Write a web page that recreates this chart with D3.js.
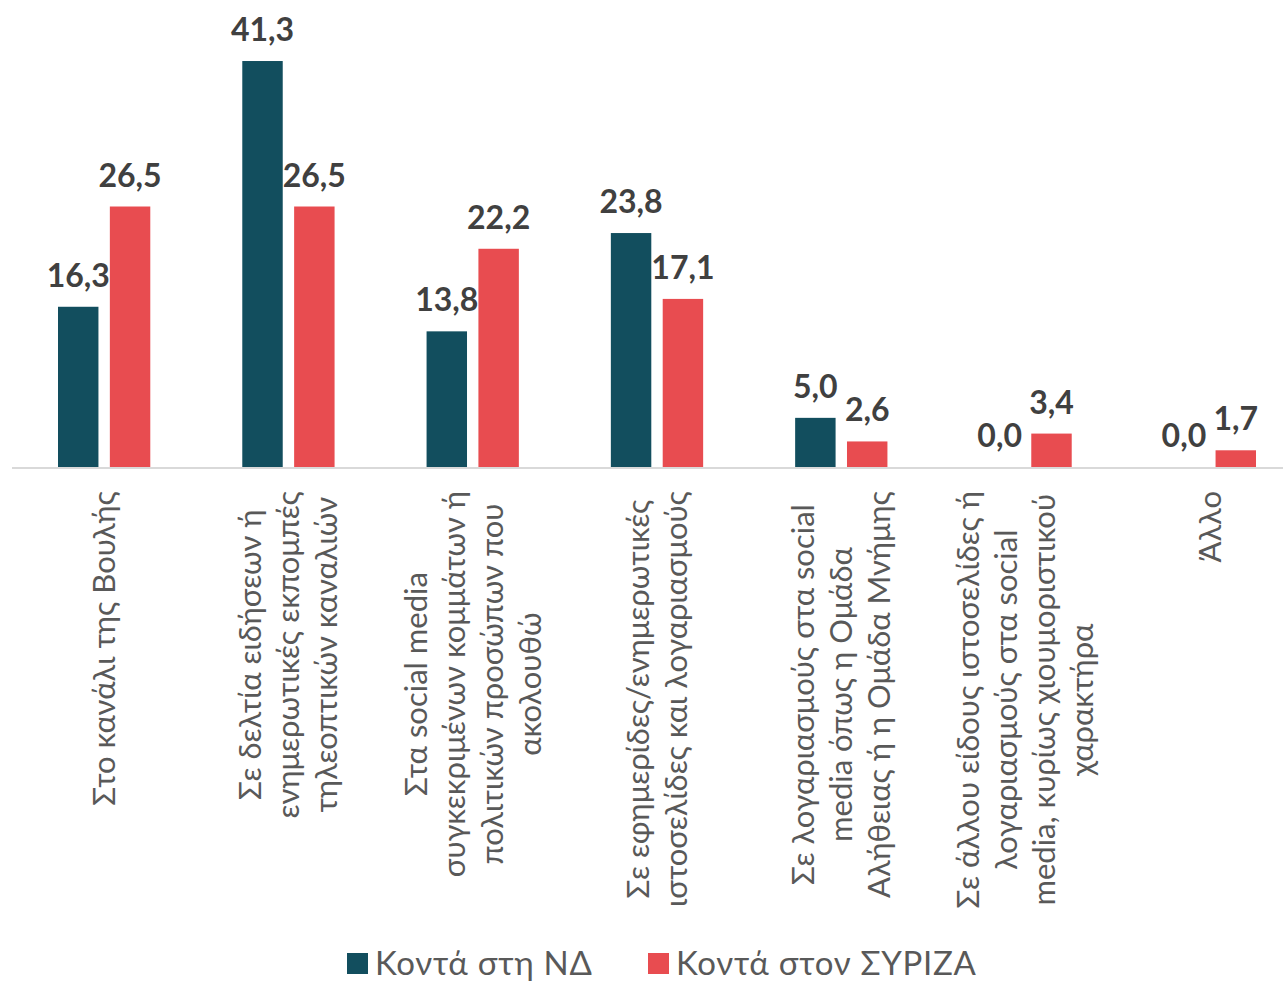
<!DOCTYPE html>
<html lang="el">
<head>
<meta charset="UTF-8">
<title>Κοντά στη ΝΔ / Κοντά στον ΣΥΡΙΖΑ</title>
<style>
  body { margin: 0; background: #fff; }
  text { font-family: Lato, "Open Sans", sans-serif; }
</style>
</head>
<body>
<script src="https://cdn.jsdelivr.net/npm/d3@7"></script>
<script>
const width = 1283;
const height = 982;

const categories = [
    ["Στο κανάλι της Βουλής"],
    ["Σε δελτία ειδήσεων ή", "ενημερωτικές εκπομπές", "τηλεοπτικών καναλιών"],
    ["Στα social media", "συγκεκριμένων κομμάτων ή", "πολιτικών προσώπων που", "ακολουθώ"],
    ["Σε εφημερίδες/ενημερωτικές", "ιστοσελίδες και λογαριασμούς"],
    ["Σε λογαριασμούς στα social", "media όπως η Ομάδα", "Αλήθειας ή η Ομάδα Μνήμης"],
    ["Σε άλλου είδους ιστοσελίδες ή", "λογαριασμούς στα social", "media, κυρίως χιουμοριστικού", "χαρακτήρα"],
    ["Άλλο"]
];
const seriesNames = ["Κοντά στη ΝΔ", "Κοντά στον ΣΥΡΙΖΑ"];
const nd = [16.3, 41.3, 13.8, 23.8, 5.0, 0.0, 0.0];
const syriza = [26.5, 26.5, 22.2, 17.1, 2.6, 3.4, 1.7];
const colors = ["#124E5E", "#E84C50"];

const rows = categories.map((c, i) => ({ i: i, values: [nd[i], syriza[i]] }));

const svg = d3.select('body')
    .append('svg')
    .attr('width', width)
    .attr('height', height);

const baseY = 467;

const x = d3.scaleBand()
    .domain(d3.range(categories.length))
    .range([12, 1302])
    .paddingInner(0)
    .paddingOuter(0);

const xInner = d3.scaleBand()
    .domain([0, 1])
    .range([46, x.bandwidth() - 46])
    .paddingInner(0.22);

const y = d3.scaleLinear()
    .domain([0, 45])
    .range([baseY, baseY - 45 * 9.83]);

// baseline
svg.append('line')
    .attr('x1', 12).attr('x2', width)
    .attr('y1', y(0) + 1).attr('y2', y(0) + 1)
    .attr('stroke', '#d9d9d9')
    .attr('stroke-width', 2);

const groups = svg.selectAll('g.cat')
    .data(rows)
    .enter()
    .append('g')
    .attr('class', 'cat')
    .attr('transform', d => `translate(${x(d.i)},0)`);

groups.selectAll('rect')
    .data(d => d.values.map((v, k) => ({ k: k, v: v })))
    .enter()
    .append('rect')
    .attr('x', d => xInner(d.k))
    .attr('y', d => y(d.v))
    .attr('width', xInner.bandwidth())
    .attr('height', d => y(0) - y(d.v))
    .attr('fill', d => colors[d.k]);

groups.selectAll('text.val')
    .data(d => d.values.map((v, k) => ({ k: k, v: v })))
    .enter()
    .append('text')
    .attr('class', 'val')
    .attr('x', d => xInner(d.k) + xInner.bandwidth() / 2)
    .attr('y', d => y(d.v) - 20)
    .attr('text-anchor', 'middle')
    .attr('font-size', '32px')
    .attr('font-weight', 'bold')
    .attr('fill', '#404040')
    .text(d => d.v.toFixed(1).replace('.', ','));

// category labels, rotated, lines centred on each other
const labelTop = 491;
const lineStep = 38;
groups.each(function (d) {
    const g = d3.select(this);
    const lines = categories[d.i];
    const cx = x.bandwidth() / 2;
    const lab = g.append('g')
        .attr('transform', `translate(${cx},${labelTop}) rotate(-90)`);
    const texts = lab.selectAll('text')
        .data(lines)
        .enter()
        .append('text')
        .attr('text-anchor', 'middle')
        .attr('font-size', '31px')
        .attr('fill', '#595959')
        .attr('dy', '0.35em')
        .attr('y', (t, j) => (j - (lines.length - 1) / 2) * lineStep)
        .text(t => t);
    let maxW = 0;
    texts.each(function () { maxW = Math.max(maxW, this.getComputedTextLength()); });
    texts.attr('x', -maxW / 2);
});

// legend
const legend = svg.append('g').attr('transform', 'translate(347,963)');
const legendX = [0, 301];
seriesNames.forEach((name, k) => {
    const item = legend.append('g').attr('transform', `translate(${legendX[k]},0)`);
    item.append('rect')
        .attr('x', 0).attr('y', -10)
        .attr('width', 21).attr('height', 21)
        .attr('fill', colors[k]);
    item.append('text')
        .attr('x', 28)
        .attr('y', 0)
        .attr('dy', '0.35em')
        .attr('font-size', '33px')
        .attr('letter-spacing', '0.7px')
        .attr('fill', '#595959')
        .text(name);
});
</script>
</body>
</html>
